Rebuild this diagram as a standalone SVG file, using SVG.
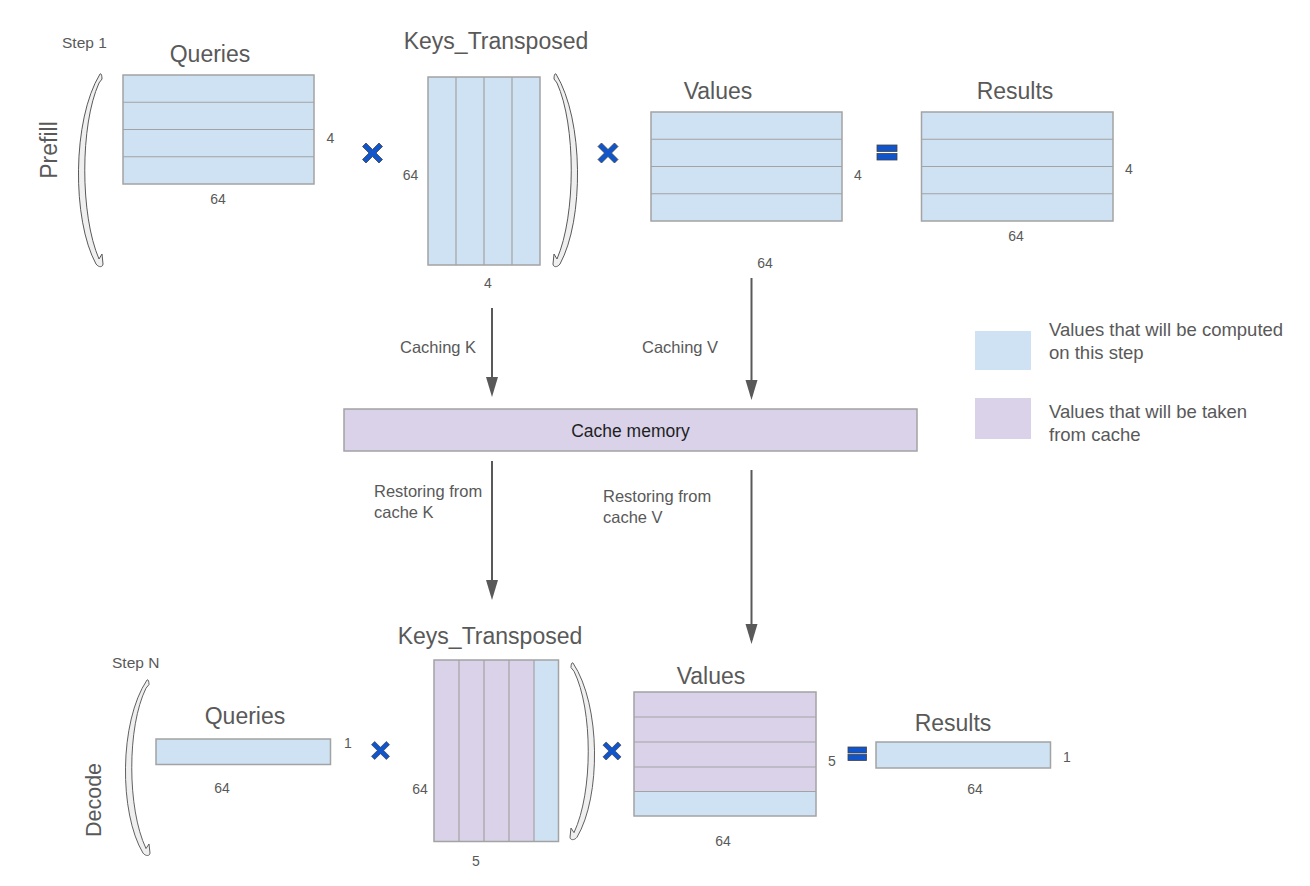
<svg xmlns="http://www.w3.org/2000/svg" width="1310" height="886" viewBox="0 0 1310 886">
<style>
text{font-family:"Liberation Sans",Arial,sans-serif;fill:#595959}
.title{font-size:23px}
.num{font-size:14px}
.step{font-size:15.5px}
.lbl{font-size:16.5px}
.leg{font-size:18.5px}
.blue{fill:#cfe2f3}
.purple{fill:#d9d2e9}
.frame{fill:none;stroke:#a3a3a3;stroke-width:1.5}
.grid{stroke:#a3a3a3;stroke-width:1.2;fill:none}
.br{fill:#efefef;stroke:#595959;stroke-width:1;vector-effect:non-scaling-stroke}
.conn{stroke:#595959;stroke-width:2;fill:none}
.op{fill:#1155cc;stroke:#434343;stroke-width:0.8}
</style>
<defs>
<path id="bracket" d="M 0,0 C -28,46 -28,146 -4,190 C -1,194 3,193 3,190 L 2,180 L -1,185 C -20,141 -20,51 -1,9 L 2,5 C 2,1 1,-1 0,0 Z"/>
<polygon id="times" points="-10,-6.5 -6.5,-10 0,-3.5 6.5,-10 10,-6.5 3.5,0 10,6.5 6.5,10 0,3.5 -6.5,10 -10,6.5 -3.5,0"/>
<marker id="arr" markerUnits="userSpaceOnUse" markerWidth="20" markerHeight="14" viewBox="0 0 20 14" refX="16" refY="7" orient="auto">
<path d="M0,1 L20,7 L0,13 Z" fill="#595959"/>
</marker>
</defs>

<!-- Prefill -->
<g id="prefill-label">
<text class="step" x="62" y="48">Step 1</text>
<text class="title" transform="translate(57,150) rotate(-90)" text-anchor="middle">Prefill</text>
<use href="#bracket" class="br" transform="translate(100,74)"/>
</g>

<g id="queries-top">
<text class="title" x="210" y="62" text-anchor="middle">Queries</text>
<rect class="blue" x="123" y="75" width="191" height="109"/>
<path class="grid" d="M123,102.25H314M123,129.5H314M123,156.75H314"/>
<rect class="frame" x="123" y="75" width="191" height="109"/>
<text class="num" x="330.5" y="142.5" text-anchor="middle">4</text>
<text class="num" x="218" y="203.5" text-anchor="middle">64</text>
</g>

<g id="op-times-1"><use href="#times" class="op" transform="translate(372.5,153)"/></g>

<g id="keys-top">
<text class="title" x="496" y="49" text-anchor="middle">Keys_Transposed</text>
<rect class="blue" x="428" y="77" width="112" height="188"/>
<path class="grid" d="M456,77V265M484,77V265M512,77V265"/>
<rect class="frame" x="428" y="77" width="112" height="188"/>
<text class="num" x="410.5" y="180" text-anchor="middle">64</text>
<text class="num" x="488" y="287.5" text-anchor="middle">4</text>
<use href="#bracket" class="br" transform="translate(556,74) scale(-1,1)"/>
</g>

<g id="op-times-2"><use href="#times" class="op" transform="translate(608,153)"/></g>

<g id="values-top">
<text class="title" x="718" y="99" text-anchor="middle">Values</text>
<rect class="blue" x="651" y="112" width="191" height="109"/>
<path class="grid" d="M651,139.25H842M651,166.5H842M651,193.75H842"/>
<rect class="frame" x="651" y="112" width="191" height="109"/>
<text class="num" x="858" y="180" text-anchor="middle">4</text>
<text class="num" x="765" y="268" text-anchor="middle">64</text>
</g>

<g id="op-eq-1">
<rect class="op" x="877" y="145" width="20" height="6.5"/>
<rect class="op" x="877" y="153.5" width="20" height="6.5"/>
</g>

<g id="results-top">
<text class="title" x="1015" y="99" text-anchor="middle">Results</text>
<rect class="blue" x="921.5" y="112" width="191.5" height="109"/>
<path class="grid" d="M921.5,139.25H1113M921.5,166.5H1113M921.5,193.75H1113"/>
<rect class="frame" x="921.5" y="112" width="191.5" height="109"/>
<text class="num" x="1129" y="174" text-anchor="middle">4</text>
<text class="num" x="1016" y="240.5" text-anchor="middle">64</text>
</g>

<!-- Cache -->
<g id="cache-memory">
<rect class="purple" x="344" y="409" width="573" height="42" stroke="#a3a3a3" stroke-width="1.5"/>
<text x="630.5" y="437" text-anchor="middle" style="font-size:17.5px;fill:#1f1f1f">Cache memory</text>
</g>

<g id="connectors">
<line class="conn" x1="492" y1="308" x2="492" y2="393" marker-end="url(#arr)"/>
<line class="conn" x1="751.5" y1="278" x2="751.5" y2="396" marker-end="url(#arr)"/>
<line class="conn" x1="492" y1="461" x2="492" y2="596" marker-end="url(#arr)"/>
<line class="conn" x1="751.5" y1="470" x2="751.5" y2="640" marker-end="url(#arr)"/>
<text class="lbl" x="400" y="353">Caching K</text>
<text class="lbl" x="642" y="353">Caching V</text>
<text class="lbl" x="374" y="497">Restoring from</text>
<text class="lbl" x="374" y="518">cache K</text>
<text class="lbl" x="603" y="502">Restoring from</text>
<text class="lbl" x="603" y="523">cache V</text>
</g>

<!-- Legend -->
<g id="legend">
<rect class="blue" x="975" y="331" width="56" height="39"/>
<text class="leg" x="1049" y="336">Values that will be computed</text>
<text class="leg" x="1049" y="359">on this step</text>
<rect class="purple" x="975" y="398" width="56" height="41"/>
<text class="leg" x="1049" y="418">Values that will be taken</text>
<text class="leg" x="1049" y="441">from cache</text>
</g>

<!-- Decode -->
<g id="decode-label">
<text class="step" x="112" y="668">Step N</text>
<text class="title" transform="translate(100.5,800) rotate(-90)" text-anchor="middle" style="font-size:21.5px">Decode</text>
<use href="#bracket" class="br" transform="translate(147,680) scale(1,0.911)"/>
</g>

<g id="queries-bottom">
<text class="title" x="245" y="724" text-anchor="middle">Queries</text>
<rect class="blue" x="156" y="739" width="174.5" height="25.5"/>
<rect class="frame" x="156" y="739" width="174.5" height="25.5"/>
<text class="num" x="348" y="748" text-anchor="middle">1</text>
<text class="num" x="222" y="793" text-anchor="middle">64</text>
</g>

<g id="op-times-3"><use href="#times" class="op" transform="translate(380.5,750.5) scale(0.9)"/></g>

<g id="keys-bottom">
<text class="title" x="490" y="644" text-anchor="middle">Keys_Transposed</text>
<rect class="purple" x="434" y="660" width="100" height="181.5"/>
<rect class="blue" x="534" y="660" width="24.5" height="181.5"/>
<path class="grid" d="M459,660V841.5M484,660V841.5M509,660V841.5M534,660V841.5"/>
<rect class="frame" x="434" y="660" width="124.5" height="181.5"/>
<text class="num" x="420" y="794" text-anchor="middle">64</text>
<text class="num" x="476" y="866" text-anchor="middle">5</text>
<use href="#bracket" class="br" transform="translate(573,663) scale(-1,0.917)"/>
</g>

<g id="op-times-4"><use href="#times" class="op" transform="translate(612,751) scale(0.9)"/></g>

<g id="values-bottom">
<text class="title" x="711" y="684" text-anchor="middle">Values</text>
<rect class="purple" x="634" y="692" width="182" height="99.5"/>
<rect class="blue" x="634" y="791.5" width="182" height="24.5"/>
<path class="grid" d="M634,717H816M634,742H816M634,767H816M634,791.5H816"/>
<rect class="frame" x="634" y="692" width="182" height="124"/>
<text class="num" x="832" y="766" text-anchor="middle">5</text>
<text class="num" x="723" y="846" text-anchor="middle">64</text>
</g>

<g id="op-eq-2">
<rect class="op" x="848" y="747" width="18.5" height="6"/>
<rect class="op" x="848" y="754.5" width="18.5" height="6"/>
</g>

<g id="results-bottom">
<text class="title" x="953" y="731" text-anchor="middle">Results</text>
<rect class="blue" x="876" y="742" width="174.5" height="26"/>
<rect class="frame" x="876" y="742" width="174.5" height="26"/>
<text class="num" x="1067" y="762" text-anchor="middle">1</text>
<text class="num" x="975" y="794" text-anchor="middle">64</text>
</g>
</svg>
